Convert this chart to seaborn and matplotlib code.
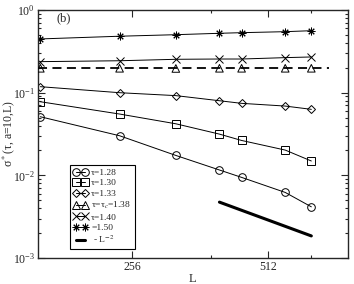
import numpy as np
import pandas as pd
import seaborn as sns
import matplotlib
matplotlib.use("Agg")
import matplotlib.pyplot as plt
from matplotlib.lines import Line2D
from matplotlib.ticker import FixedLocator, NullFormatter, LogLocator

# data
L = [160, 240, 320, 400, 448, 560, 640]
s128 = [0.0511, 0.0301, 0.0174, 0.0116, 0.00944, 0.00621, 0.00416]
s130 = [0.0776, 0.0551, 0.0420, 0.0315, 0.0264, 0.0202, 0.0149]
s133 = [0.118, 0.0998, 0.092, 0.0798, 0.0742, 0.0688, 0.0628]
s138 = [0.197, 0.197, 0.196, 0.197, 0.197, 0.197, 0.197]
s140 = [0.237, 0.243, 0.253, 0.255, 0.255, 0.265, 0.270]
s150 = [0.446, 0.481, 0.502, 0.522, 0.531, 0.546, 0.561]
dash_L = [158, 700]
dash_s = [0.197, 0.197]
slope_L = [400, 640]
slope_s = [0.00474, 0.00185]

labels = ["τ=1.28", "τ=1.30", "τ=1.33", "τ=τ$_c$=1.38", "τ=1.40", "=1.50", " - L$^{-2}$"]

sns.set_style("ticks")
plt.rcParams["font.family"] = ["Liberation Serif", "DejaVu Serif"]
plt.rcParams["mathtext.fontset"] = "stix"

fig = plt.figure(figsize=(3.54, 2.84), dpi=100)
ax = fig.add_axes([0.107, 0.0915, 0.876, 0.8735])

mk = dict(color="k", markerfacecolor="none", markeredgecolor="k",
          markersize=5.5, markeredgewidth=0.7, linewidth=0.7)
sns.lineplot(x=L, y=s128, marker="o", ax=ax, **mk)
sns.lineplot(x=L, y=s130, marker="s", ax=ax, **mk)
sns.lineplot(x=L, y=s133, marker="D", ax=ax, **{**mk, "markersize": 4.5})
sns.lineplot(x=L, y=s140, marker="x", ax=ax, **mk)
sns.lineplot(x=L, y=s150, marker=(8, 2, 0), ax=ax, **mk)
sns.lineplot(x=dash_L, y=dash_s, ax=ax, color="k", linewidth=1.3, dashes=(5, 3))
sns.scatterplot(x=L, y=s138, marker="^", s=30, facecolor="none", edgecolor="k",
                linewidth=0.7, ax=ax, zorder=5)
sns.lineplot(x=slope_L, y=slope_s, ax=ax, color="k", linewidth=2.2)

ax.set_xscale("log")
ax.set_yscale("log")
ax.set_xlim(158, 772)
ax.set_ylim(1e-3, 1)
ax.xaxis.set_major_locator(FixedLocator([256, 512]))
ax.xaxis.set_minor_locator(FixedLocator([384, 640]))
ax.xaxis.set_major_formatter(plt.FixedFormatter(["256", "512"]))
ax.xaxis.set_minor_formatter(NullFormatter())
ax.yaxis.set_major_locator(LogLocator(base=10, numticks=10))
ax.yaxis.set_minor_locator(LogLocator(base=10, subs=np.arange(2, 10), numticks=10))
ax.yaxis.set_minor_formatter(NullFormatter())
ax.tick_params(which="both", direction="in", top=True, right=True, labelsize=8.5, width=0.8)
ax.tick_params(which="major", length=5, pad=2)
ax.tick_params(which="minor", length=2.5)
for sp in ax.spines.values():
    sp.set_linewidth(1.0)

ax.set_xlabel("L", fontsize=9)
ax.set_ylabel("σ$^*$(τ, a=10,L)", fontsize=8.5)
ax.xaxis.set_label_coords(0.5, -0.06)
ax.yaxis.set_label_coords(-0.068, 0.5)
ax.text(0.084, 0.965, "(b)", transform=ax.transAxes, fontsize=9, ha="center", va="center")

handles = [
    Line2D([], [], marker="o", **mk),
    Line2D([], [], marker="s", **mk),
    Line2D([], [], marker="D", **{**mk, "markersize": 4.5}),
    Line2D([], [], marker="^", **mk),
    Line2D([], [], marker="x", **mk),
    Line2D([], [], marker=(8, 2, 0), **mk),
    Line2D([], [], color="k", linewidth=2.2),
]
leg = ax.legend(handles, labels, loc="lower left", bbox_to_anchor=(0.103, 0.036),
                borderaxespad=0, fontsize=6.8, numpoints=2, handlelength=1.5,
                handletextpad=0.35, labelspacing=0.2, borderpad=0.4,
                frameon=True, fancybox=False, edgecolor="k", framealpha=1)
leg.get_frame().set_linewidth(0.8)

fig.savefig("out.png", dpi=100)
